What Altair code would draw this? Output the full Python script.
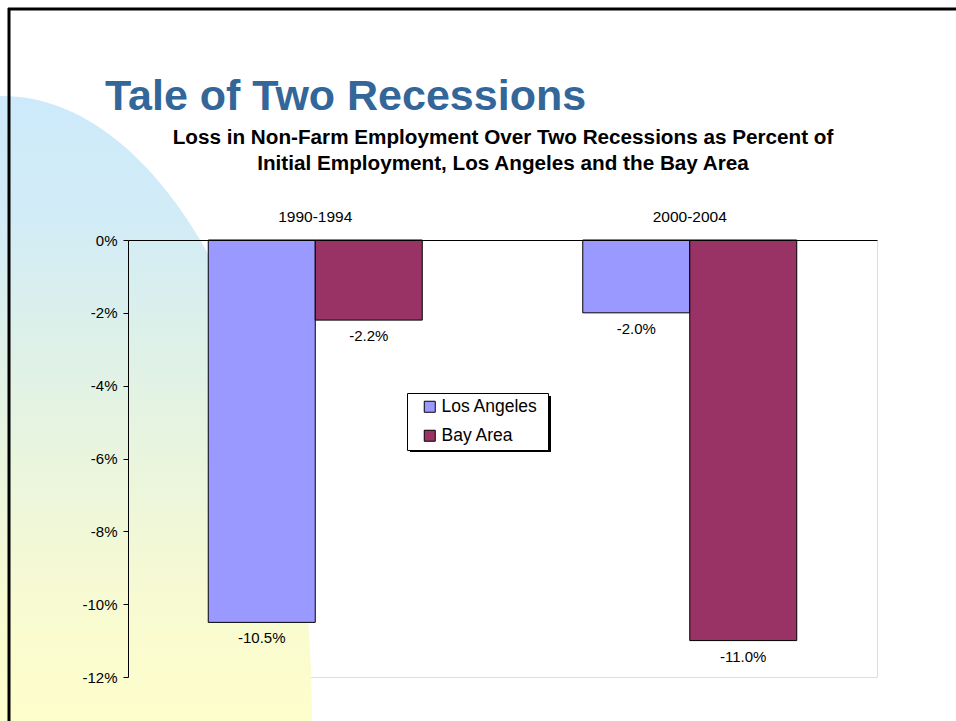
import altair as alt
import pandas as pd

# ---- data ----
periods = ["1990-1994", "2000-2004"]
cities = ["Los Angeles", "Bay Area"]
los_angeles = [-10.5, -2.0]
bay_area = [-2.2, -11.0]
y_ticks = [0, -2, -4, -6, -8, -10, -12]
colors = ["#9999ff", "#993366"]

slide_title = "Tale of Two Recessions"
chart_title = ["Loss in Non-Farm Employment Over Two Recessions as Percent of",
               "Initial Employment, Los Angeles and the Bay Area"]

rows = []
for i, p in enumerate(periods):
    rows.append({"period": p, "city": cities[0], "value": los_angeles[i]})
    rows.append({"period": p, "city": cities[1], "value": bay_area[i]})
df = pd.DataFrame(rows)
df["label"] = df["value"].map(lambda v: f"{v:.1f}%")

one = pd.DataFrame({"k": [0]})
FONT = "Liberation Sans"

# ---- decorations (slide background) ----
a, b, k = 0.4968, 1.0, 0.5523
ellipse_path = (
    f"M {a} 0 C {a} {k*b} {k*a} {b} 0 {b} "
    f"C {-k*a} {b} {-a} {k*b} {-a} 0 "
    f"C {-a} {-k*b} {-k*a} {-b} 0 {-b} "
    f"C {k*a} {-b} {a} {-k*b} {a} 0 Z"
)
gradient = {
    "gradient": "linear", "x1": 0, "x2": 0, "y1": 0, "y2": 1,
    "stops": [
        {"offset": 0.0, "color": "#cdeafb"},
        {"offset": 0.1, "color": "#d2ecf6"},
        {"offset": 0.25, "color": "#e4f3e2"},
        {"offset": 0.4, "color": "#f7fad2"},
        {"offset": 0.5, "color": "#fefecb"},
        {"offset": 1.0, "color": "#ffffcc"},
    ],
}
ellipse = alt.Chart(one).mark_point(
    shape=ellipse_path, filled=True, fill=gradient, strokeWidth=0, opacity=1,
    size=1248 * 1248,
).encode(x=alt.value(-126), y=alt.value(480))

border_top = alt.Chart(one).mark_rule(color="black", strokeWidth=3).encode(
    x=alt.value(-120), x2=alt.value(830), y=alt.value(-231))
border_left = alt.Chart(one).mark_rule(color="black", strokeWidth=3).encode(
    x=alt.value(-119), y=alt.value(-232), y2=alt.value(485))

title_text = alt.Chart(one).mark_text(
    text=slide_title, align="left", baseline="alphabetic",
    font=FONT, fontSize=43, fontWeight="bold", color="#336699",
).encode(x=alt.value(-23), y=alt.value(-130))

shadow = alt.Chart(one).mark_rect(color="black").encode(
    x=alt.value(282), x2=alt.value(423), y=alt.value(156), y2=alt.value(212))

# ---- chart ----
x_enc = alt.X(
    "period:N", sort=periods,
    scale=alt.Scale(paddingInner=0, paddingOuter=0),
    axis=alt.Axis(
        orient="top", title=chart_title, labelAngle=0, ticks=False, zindex=1,
        labelFontSize=15.5, labelPadding=16, labelColor="black", labelFont=FONT,
        domainColor="black", domainWidth=1,
        titleFontSize=20.7, titleFontWeight="bold", titleColor="black",
        titleFont=FONT, titlePadding=36, titleLineHeight=26,
    ),
)
xoff_enc = alt.XOffset("city:N", sort=cities,
                       scale=alt.Scale(paddingOuter=0.75, paddingInner=0))
y_enc = alt.Y(
    "value:Q", scale=alt.Scale(domain=[-12, 0], nice=False),
    axis=alt.Axis(
        values=y_ticks, labelExpr="datum.value + '%'", title=None, grid=False,
        domainColor="black", tickColor="black", tickSize=5, zindex=1,
        labelFontSize=15, labelPadding=6, labelColor="black", labelFont=FONT,
    ),
)

bars = alt.Chart(df).mark_bar(stroke="black", strokeWidth=1).encode(
    x=x_enc, xOffset=xoff_enc, y=y_enc,
    color=alt.Color(
        "city:N", sort=cities,
        scale=alt.Scale(domain=cities, range=colors),
        legend=alt.Legend(
            title=None, orient="none", legendX=279, legendY=153,
            fillColor="white", strokeColor="black", padding=5,
            symbolType="square", symbolSize=121, symbolStrokeColor="black",
            symbolStrokeWidth=1, symbolOffset=9, labelOffset=3,
            labelFontSize=17.5, labelColor="black", labelFont=FONT,
            rowPadding=10, labelExpr="datum.label + '\u00a0\u200b'",
        ),
    ),
)

labels = alt.Chart(df).mark_text(
    baseline="alphabetic", dy=21, fontSize=15, font=FONT, color="black",
).encode(x=x_enc, xOffset=xoff_enc, y=y_enc, text="label:N")

chart = alt.layer(
    ellipse, border_top, border_left, title_text, shadow, bars, labels
).properties(
    width=749, height=437,
    autosize=alt.AutoSizeParams(type="none"),
    padding={"left": 128, "top": 240, "right": 79, "bottom": 44},
    background="white",
).configure_view(
    stroke="#808080", strokeWidth=1, fill=None,
).configure(font=FONT)

chart.save("out.html", embed_options={"renderer": "svg", "actions": False})
